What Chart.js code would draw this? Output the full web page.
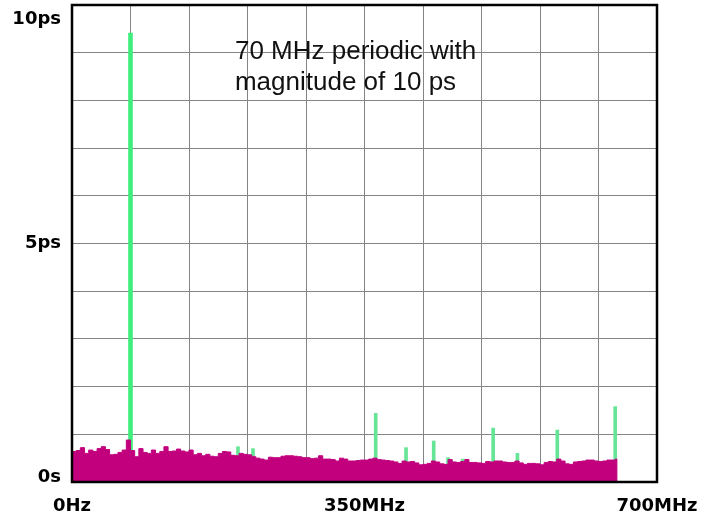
<!DOCTYPE html>
<html>
<head>
<meta charset="utf-8">
<script src="https://cdn.jsdelivr.net/npm/chart.js@4/dist/chart.umd.min.js"></script>
<style>
  html, body { margin: 0; padding: 0; background: #fff; }
  canvas { display: block; }
</style>
</head>
<body>
<canvas id="jitterChart" width="715" height="517"></canvas>
<script>
// noise floor, one value per 5 MHz bin starting at 0 Hz (ps)
const binStepMHz = 5;
const floorEndMHz = 652;
const noiseFloorPs = [
  0.64, 0.66, 0.72, 0.60, 0.67, 0.64, 0.70, 0.74, 0.68, 0.57, 0.58, 0.62, 0.67,
  0.88, 0.66, 0.53, 0.70, 0.62, 0.60, 0.67, 0.60, 0.64, 0.74, 0.64, 0.65, 0.69,
  0.65, 0.63, 0.67, 0.57, 0.60, 0.55, 0.58, 0.54, 0.53, 0.60, 0.64, 0.63, 0.56,
  0.55, 0.60, 0.58, 0.57, 0.53, 0.50, 0.48, 0.46, 0.52, 0.51, 0.51, 0.54, 0.55,
  0.55, 0.54, 0.53, 0.51, 0.51, 0.49, 0.50, 0.55, 0.48, 0.48, 0.47, 0.44, 0.50,
  0.48, 0.44, 0.44, 0.45, 0.46, 0.46, 0.48, 0.50, 0.47, 0.46, 0.45, 0.44, 0.42,
  0.39, 0.44, 0.42, 0.43, 0.40, 0.36, 0.37, 0.39, 0.44, 0.42, 0.38, 0.37, 0.47,
  0.42, 0.41, 0.43, 0.47, 0.41, 0.41, 0.40, 0.39, 0.43, 0.42, 0.44, 0.44, 0.42,
  0.41, 0.41, 0.44, 0.40, 0.37, 0.39, 0.39, 0.38, 0.36, 0.41, 0.43, 0.42, 0.48,
  0.44, 0.38, 0.37, 0.42, 0.43, 0.44, 0.46, 0.46, 0.44, 0.43, 0.44, 0.46, 0.46,
  0.48
];

// periodic jitter components
const mainSpikeMHz = [70];
const mainSpikePs = [9.41];
const spikeFreqsMHz = [198.6, 216.6, 363.4, 399.7, 432.8, 450, 467.5, 504, 533, 580.7, 650];
const spikePs = [0.74, 0.70, 1.44, 0.72, 0.86, 0.51, 0.48, 1.13, 0.60, 1.09, 1.58];

const xTickValues = [0, 350, 700];
const xTickLabels = ["0Hz", "350MHz", "700MHz"];
const yTickValues = [0, 5, 10];
const yTickLabels = ["0s", "5ps", "10ps"];

const noteLines = ["70 MHz periodic with", "magnitude of 10 ps"];
const noteMHz = 195;
const notePs = 8.86;

const floorPoints = noiseFloorPs.map((v, i) => ({ x: i * binStepMHz, y: v }));
floorPoints.push({ x: floorEndMHz, y: noiseFloorPs[noiseFloorPs.length - 1] });
floorPoints.push({ x: floorEndMHz, y: 0 });

const tickFont = { family: "'DejaVu Sans', Verdana, sans-serif", size: 18, weight: "bold" };

// frame round the plot and the note text
const framePlugin = {
  id: "frame",
  afterDatasetsDraw(chart) {
    const { ctx, chartArea, scales } = chart;
    ctx.save();
    ctx.fillStyle = "#111";
    ctx.font = "26px 'Liberation Sans', Arial, sans-serif";
    ctx.textBaseline = "alphabetic";
    const nx = scales.x.getPixelForValue(noteMHz);
    const ny = scales.y.getPixelForValue(notePs);
    noteLines.forEach((line, i) => ctx.fillText(line, nx, ny + i * 31));
    ctx.strokeStyle = "#000";
    ctx.lineWidth = 2.5;
    ctx.strokeRect(chartArea.left, chartArea.top, chartArea.right - chartArea.left, chartArea.bottom - chartArea.top);
    ctx.restore();
  }
};

new Chart(document.getElementById("jitterChart"), {
  type: "bar",
  data: {
    datasets: [
      {
        type: "line",
        data: floorPoints,
        stepped: true,
        fill: "origin",
        backgroundColor: "#c2007e",
        borderColor: "#c2007e",
        borderWidth: 1,
        pointRadius: 0,
        order: 0
      },
      {
        data: mainSpikeMHz.map((f, i) => ({ x: f, y: mainSpikePs[i] })),
        backgroundColor: "#3fee7c",
        barThickness: 4,
        grouped: false,
        order: 1
      },
      {
        data: spikeFreqsMHz.map((f, i) => ({ x: f, y: spikePs[i] })),
        backgroundColor: "#66e596",
        barThickness: 3,
        grouped: false,
        order: 1
      }
    ]
  },
  options: {
    responsive: false,
    animation: false,
    layout: { padding: { top: 5, right: 58, bottom: 0, left: 0 } },
    plugins: { legend: { display: false }, tooltip: { enabled: false } },
    scales: {
      x: {
        type: "linear",
        min: 0,
        max: 700,
        offset: false,
        grid: { color: "#848484", lineWidth: 1, offset: false, drawTicks: false },
        border: { display: false },
        ticks: {
          stepSize: 70,
          autoSkip: false,
          maxRotation: 0,
          padding: 14,
          color: "#000",
          font: tickFont,
          callback: (v) => {
            const k = xTickValues.indexOf(Math.round(v));
            return k >= 0 ? xTickLabels[k] : "";
          }
        },
        afterFit: (scale) => { scale.height = 35; }
      },
      y: {
        min: 0,
        max: 10,
        grid: { color: "#848484", lineWidth: 1, drawTicks: false },
        border: { display: false },
        ticks: {
          stepSize: 1,
          autoSkip: false,
          padding: 11,
          color: "#000",
          font: (ctx) => {
            const v = ctx.tick ? ctx.tick.value : null;
            const lh = v === 10 ? 1.6 : v === 0 ? 0.5 : 1.2;
            return Object.assign({}, tickFont, { lineHeight: lh });
          },
          callback: (v) => {
            const k = yTickValues.indexOf(Math.round(v));
            if (k < 0) return "";
            if (v === 10) return ["", yTickLabels[k]];
            if (v === 0) return [yTickLabels[k], ""];
            return yTickLabels[k];
          }
        },
        afterFit: (scale) => {
          scale.width = 72;
          scale.paddingTop = 0;
          scale.paddingBottom = 0;
        }
      }
    }
  },
  plugins: [framePlugin]
});
</script>
</body>
</html>
